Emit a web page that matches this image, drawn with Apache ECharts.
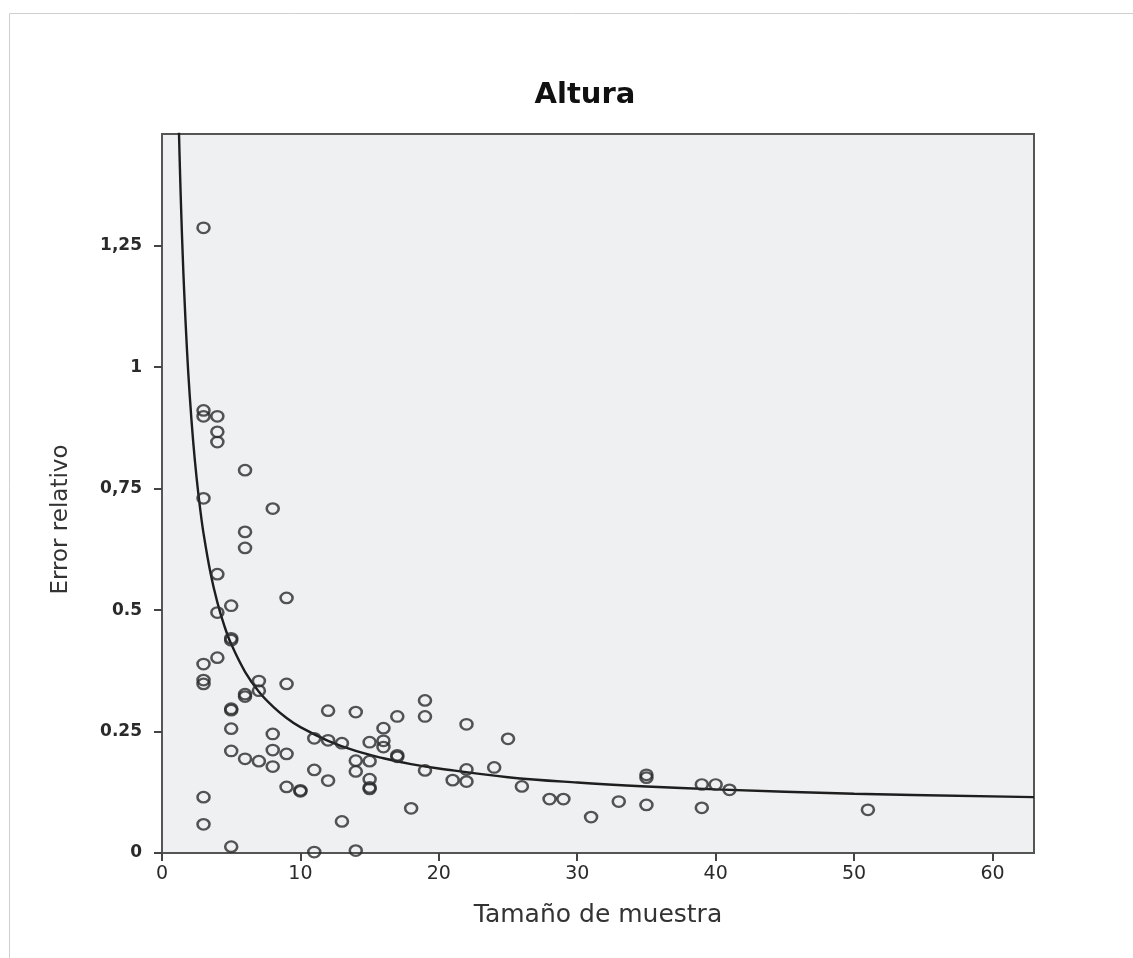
<!DOCTYPE html>
<html>
<head>
<meta charset="utf-8">
<style>
  html, body { margin: 0; padding: 0; background: #ffffff; }
  #chart { width: 1133px; height: 958px; }
</style>
<script src="https://cdn.jsdelivr.net/npm/echarts@6/dist/echarts.min.js"></script>
</head>
<body>
<div id="chart"></div>
<script>
// ---- Data ----
const titleText = 'Altura';
const xAxisTitle = 'Tamaño de muestra';
const yAxisTitle = 'Error relativo';

const xTickValues = [0, 10, 20, 30, 40, 50, 60];
const xTickLabels = ['0', '10', '20', '30', '40', '50', '60'];
const yTickValues = [0, 0.25, 0.5, 0.75, 1, 1.25];
const yTickLabels = ['0', '0.25', '0.5', '0,75', '1', '1,25'];

// Observed points: sample size and relative error
const sampleSize = [
  3, 3, 3, 4, 4, 4, 6, 3, 8, 6, 6, 4, 9, 5, 4,
  5, 5, 4, 3, 3, 3, 7, 7, 9, 6, 6, 5, 5,
  12, 14, 17, 19, 19, 16, 5, 8, 11, 12, 13, 15, 16, 16,
  5, 8, 6, 7, 8, 9, 17, 17, 14, 15, 14, 15, 15, 15, 19, 11, 12, 9, 10, 10,
  18, 13, 3, 3, 5, 11, 14,
  21, 22, 22, 22, 24, 25, 26, 28, 29, 31, 33, 35, 35, 35, 39, 39, 40, 41, 51
];
const relError = [
  1.287, 0.911, 0.899, 0.899, 0.867, 0.846, 0.788, 0.730, 0.709, 0.661, 0.628, 0.574, 0.525, 0.509, 0.495,
  0.442, 0.438, 0.402, 0.389, 0.356, 0.348, 0.354, 0.334, 0.348, 0.322, 0.327, 0.294, 0.297,
  0.293, 0.290, 0.281, 0.314, 0.281, 0.257, 0.256, 0.245, 0.236, 0.232, 0.226, 0.228, 0.231, 0.218,
  0.210, 0.212, 0.194, 0.189, 0.178, 0.204, 0.198, 0.201, 0.190, 0.189, 0.168, 0.152, 0.132, 0.135, 0.170, 0.171, 0.149, 0.136, 0.127, 0.129,
  0.092, 0.065, 0.115, 0.059, 0.013, 0.002, 0.005,
  0.150, 0.265, 0.172, 0.147, 0.176, 0.235, 0.137, 0.111, 0.111, 0.074, 0.106, 0.161, 0.155, 0.099, 0.141, 0.093, 0.141, 0.130, 0.089
];

// Fitted curve, points
const curveX = [1.2, 1.3, 1.4, 1.5, 1.6, 1.8, 2, 2.25, 2.5, 2.75, 3, 3.5, 4, 4.5, 5, 6, 7, 8, 9, 10, 12, 14, 16, 18, 20, 25, 30, 35, 40, 50, 63];
const curveY = [1.513, 1.403, 1.309, 1.228, 1.157, 1.038, 0.943, 0.848, 0.772, 0.710, 0.658, 0.577, 0.516, 0.468, 0.430, 0.373, 0.332, 0.302, 0.278, 0.259, 0.231, 0.210, 0.195, 0.183, 0.174, 0.156, 0.145, 0.137, 0.131, 0.122, 0.115];

// ---- Build chart ----
const points = sampleSize.map((x, i) => [x, relError[i]]);
const curve = curveX.map((x, i) => [x, curveY[i]]);

const chart = echarts.init(document.getElementById('chart'), null, { renderer: 'canvas' });

const fontFamily = '"DejaVu Sans", Verdana, sans-serif';

chart.setOption({
  backgroundColor: '#ffffff',
  animation: false,
  title: {
    text: titleText,
    left: 580,
    top: 76,
    textAlign: 'center',
    textStyle: { fontFamily: fontFamily, fontWeight: 'bold', fontSize: 29, color: '#111111' }
  },
  graphic: [{
    type: 'rect',
    silent: true,
    shape: { x: 9.5, y: 13.5, width: 1300, height: 1100 },
    style: { fill: 'none', stroke: '#cfcfcf', lineWidth: 1 },
    z: -10
  }],
  grid: {
    left: 162, top: 134, right: 99, bottom: 105,
    show: true,
    backgroundColor: '#eff0f2',
    borderColor: '#555555',
    borderWidth: 2
  },
  xAxis: {
    type: 'value',
    min: 0, max: 63,
    interval: 10,
    name: xAxisTitle,
    nameLocation: 'middle',
    nameGap: 50,
    nameTextStyle: { fontFamily: fontFamily, fontSize: 25, color: '#333333' },
    axisLine: { show: true, onZero: false, lineStyle: { color: '#555555', width: 2 } },
    axisTick: { show: true, length: 8, customValues: xTickValues, lineStyle: { color: '#444444', width: 2 } },
    axisLabel: {
      customValues: xTickValues,
      margin: 12,
      fontFamily: fontFamily, fontSize: 19, color: '#2a2a2a',
      formatter: function (v) { const i = xTickValues.indexOf(v); return i >= 0 ? xTickLabels[i] : ''; }
    },
    splitLine: { show: false }
  },
  yAxis: {
    type: 'value',
    min: 0, max: 1.48,
    interval: 0.25,
    name: yAxisTitle,
    nameLocation: 'middle',
    nameGap: 89,
    nameRotate: 90,
    nameTextStyle: { fontFamily: fontFamily, fontSize: 23, color: '#333333', padding: [0, 52, 0, 0] },
    axisLine: { show: true, onZero: false, lineStyle: { color: '#555555', width: 2 } },
    axisTick: { show: true, length: 8, customValues: yTickValues, lineStyle: { color: '#444444', width: 2 } },
    axisLabel: {
      customValues: yTickValues,
      margin: 20,
      fontFamily: fontFamily, fontSize: 17, fontWeight: 'bold', color: '#2a2a2a',
      formatter: function (v) {
        for (let i = 0; i < yTickValues.length; i++) {
          if (Math.abs(yTickValues[i] - v) < 1e-9) return yTickLabels[i];
        }
        return '';
      }
    },
    splitLine: { show: false }
  },
  series: [
    {
      type: 'line',
      data: curve,
      smooth: 0.4,
      showSymbol: false,
      symbol: 'none',
      clip: true,
      lineStyle: { color: '#1e1e1e', width: 2.4 },
      z: 2
    },
    {
      type: 'scatter',
      data: points,
      symbol: 'circle',
      symbolSize: [12, 10.5],
      clip: true,
      itemStyle: { color: 'rgba(0,0,0,0)', borderColor: '#2a2a2a', borderWidth: 2.4 },
      z: 3
    }
  ]
});
</script>
</body>
</html>
